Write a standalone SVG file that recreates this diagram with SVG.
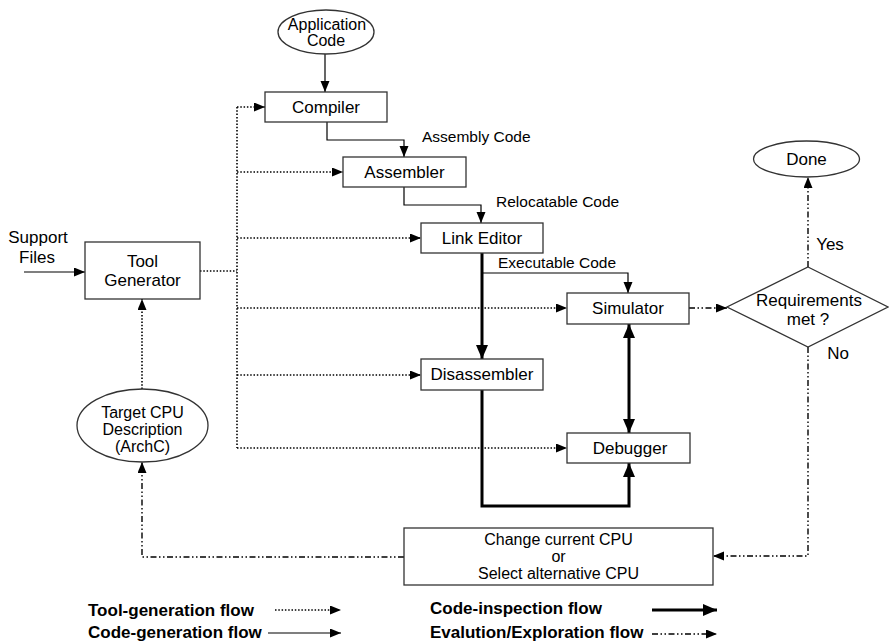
<svg xmlns="http://www.w3.org/2000/svg" width="889" height="644" viewBox="0 0 889 644">
  <style>
    text { font-family: "Liberation Sans", Arial, sans-serif; fill: #000; }
    .box { fill: #fff; stroke: #333; stroke-width: 1.3; }
    .lbl { font-size: 17px; text-anchor: middle; }
    .sm { font-size: 16px; text-anchor: middle; }
    .edge { font-size: 15.5px; }
    .leg { font-size: 17px; font-weight: bold; }
    .thin { fill: none; stroke: #000; stroke-width: 1.2; }
    .thick { fill: none; stroke: #000; stroke-width: 3; }
    .dot { fill: none; stroke: #000; stroke-width: 1.6; stroke-dasharray: 1.5 1.8; }
    .dd { fill: none; stroke: #000; stroke-width: 1.4; stroke-dasharray: 6 2.5 1.5 2.5 1.5 2.5; }
  </style>
  <defs>
    <marker id="ah" markerUnits="userSpaceOnUse" markerWidth="12" markerHeight="10" refX="11" refY="4.5" orient="auto-start-reverse">
      <path d="M0,0 L11,4.5 L0,9 z" fill="#000"/>
    </marker>
    <marker id="ahb" markerUnits="userSpaceOnUse" markerWidth="16" markerHeight="14" refX="14" refY="6" orient="auto-start-reverse">
      <path d="M0,0 L14,6 L0,12 z" fill="#000"/>
    </marker>
  </defs>

  <!-- connectors -->
  <g id="connectors">
    <!-- code-generation flow -->
    <path class="thin" d="M325,54 V92" marker-end="url(#ah)"/>
    <path class="thin" d="M327,122 V140 H404 V157" marker-end="url(#ah)"/>
    <path class="thin" d="M404,187 V205 H481 V223" marker-end="url(#ah)"/>
    <path class="thin" d="M482,273 H628 V293" marker-end="url(#ah)"/>
    <path class="thin" d="M24,272 H85" marker-end="url(#ah)"/>

    <!-- code-inspection flow -->
    <path class="thick" d="M482,253 V359" marker-end="url(#ahb)"/>
    <path class="thick" d="M482,390 V506 H629 V463" marker-end="url(#ahb)"/>
    <path class="thick" d="M629,324 V433" marker-start="url(#ahb)" marker-end="url(#ahb)"/>

    <!-- tool-generation flow -->
    <path class="dot" d="M200,271 H237"/>
    <path class="dot" d="M237,107 V448"/>
    <path class="dot" d="M237,107 H265" marker-end="url(#ah)"/>
    <path class="dot" d="M237,172 H343" marker-end="url(#ah)"/>
    <path class="dot" d="M237,238 H421" marker-end="url(#ah)"/>
    <path class="dot" d="M237,308 H567" marker-end="url(#ah)"/>
    <path class="dot" d="M237,375 H421" marker-end="url(#ah)"/>
    <path class="dot" d="M237,448 H567" marker-end="url(#ah)"/>
    <path class="dot" d="M142,389 V299" marker-end="url(#ah)"/>

    <!-- evaluation/exploration flow -->
    <path class="dd" d="M689,308 H727" marker-end="url(#ah)"/>
    <path class="dd" d="M808,267 V177" marker-end="url(#ah)"/>
    <path class="dd" d="M808,347 V556 H713" marker-end="url(#ah)"/>
    <path class="dd" d="M404,557 H142 V462" marker-end="url(#ah)"/>

    <text class="edge" x="422" y="142">Assembly Code</text>
    <text class="edge" x="496" y="207">Relocatable Code</text>
    <text class="edge" x="498" y="268">Executable Code</text>
    <text class="lbl" x="38" y="243">Support</text>
    <text class="lbl" x="37" y="263">Files</text>
    <text class="lbl" x="830" y="250">Yes</text>
    <text class="lbl" x="838" y="359">No</text>
  </g>

  <g id="app-code">
    <ellipse class="box" cx="326" cy="32" rx="48" ry="22"/>
    <text class="sm" x="327" y="30">Application</text>
    <text class="sm" x="326" y="46">Code</text>
  </g>

  <g id="compiler">
    <rect class="box" x="265" y="92" width="122" height="30"/>
    <text class="lbl" x="326" y="113">Compiler</text>
  </g>

  <g id="assembler">
    <rect class="box" x="343" y="157" width="123" height="30"/>
    <text class="lbl" x="404.5" y="178">Assembler</text>
  </g>

  <g id="link-editor">
    <rect class="box" x="421" y="223" width="122" height="30"/>
    <text class="lbl" x="482" y="244">Link Editor</text>
  </g>

  <g id="simulator">
    <rect class="box" x="567" y="293" width="122" height="31"/>
    <text class="lbl" x="628" y="314">Simulator</text>
  </g>

  <g id="disassembler">
    <rect class="box" x="421" y="359" width="122" height="31"/>
    <text class="lbl" x="482" y="380">Disassembler</text>
  </g>

  <g id="debugger">
    <rect class="box" x="567" y="433" width="123" height="30"/>
    <text class="lbl" x="630" y="454">Debugger</text>
  </g>

  <g id="tool-generator">
    <rect class="box" x="85" y="242" width="115" height="57"/>
    <text class="lbl" x="142.5" y="267">Tool</text>
    <text class="lbl" x="142.5" y="286">Generator</text>
  </g>

  <g id="target-cpu">
    <ellipse class="box" cx="142.5" cy="425.5" rx="65.5" ry="36.5"/>
    <text class="sm" x="142.5" y="418">Target CPU</text>
    <text class="sm" x="142.5" y="435">Description</text>
    <text class="sm" x="142.5" y="452">(ArchC)</text>
  </g>

  <g id="requirements">
    <polygon class="box" points="808,267 888,307 808,347 727,307"/>
    <text class="lbl" x="809" y="306">Requirements</text>
    <text class="lbl" x="808" y="325">met ?</text>
  </g>

  <g id="done">
    <ellipse class="box" cx="806.5" cy="159" rx="53" ry="18"/>
    <text class="lbl" x="806.5" y="165">Done</text>
  </g>

  <g id="change-cpu">
    <rect class="box" x="404" y="528" width="309" height="57"/>
    <text class="sm" x="558.5" y="545">Change current CPU</text>
    <text class="sm" x="558.5" y="562">or</text>
    <text class="sm" x="558.5" y="579">Select alternative CPU</text>
  </g>

  <!-- legend -->
  <g id="legend">
    <text class="leg" x="88" y="616">Tool-generation flow</text>
    <text class="leg" x="88" y="638">Code-generation flow</text>
    <text class="leg" x="430" y="614">Code-inspection flow</text>
    <text class="leg" x="430" y="638">Evalution/Exploration flow</text>
    <path class="dot" d="M275,610 H341" marker-end="url(#ah)"/>
    <path class="thin" d="M268,633 H341" marker-end="url(#ah)"/>
    <path class="thick" d="M652,610 H717" marker-end="url(#ahb)"/>
    <path class="dd" d="M652,634 H717" marker-end="url(#ah)"/>
  </g>
</svg>
